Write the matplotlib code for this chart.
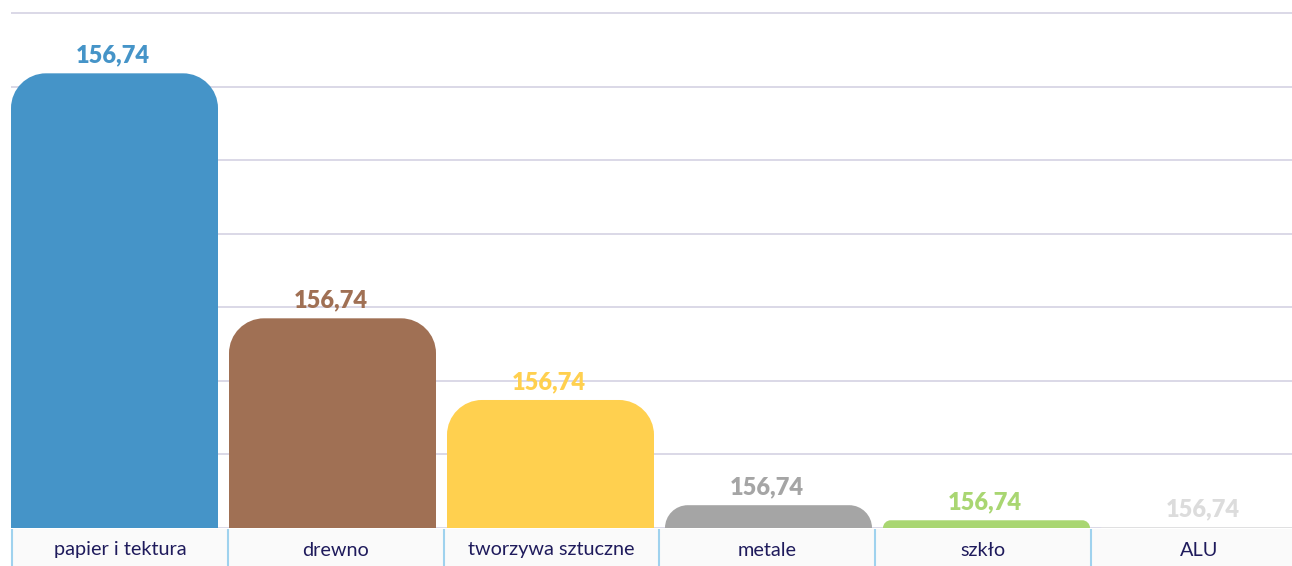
import matplotlib
matplotlib.use("Agg")
import matplotlib.pyplot as plt
from matplotlib.path import Path
from matplotlib.patches import PathPatch, Rectangle

# data
CATEGORIES = ["papier i tektura", "drewno", "tworzywa sztuczne", "metale", "szkło", "ALU"]
VALUES = [6.18, 2.85, 1.74, 0.31, 0.105, 0.012]
VALUE_LABELS = ["156,74", "156,74", "156,74", "156,74", "156,74", "156,74"]
COLORS = ["#4594c8", "#a07054", "#ffd04f", "#a5a5a5", "#a9d672", "#e1e1e1"]
LABEL_COLORS = ["#4594c8", "#a07054", "#ffd04f", "#a5a5a5", "#a9d672", "#dcdcdc"]
GRID_LEVELS = [0, 1, 2, 3, 4, 5, 6, 7]

W, H = 1292, 566
PX_X = 218.0     # pixels per category
PX_Y = 73.57     # pixels per grid step
BAR_W = 207 / PX_X
RADIUS = 35      # corner radius in px


def rounded_bar(ax, xc, h, color):
    h_px = h * PX_Y
    r = min(RADIUS, h_px)
    rx = r / PX_X
    ry = r / PX_Y
    k = 0.5523
    x0 = xc - BAR_W / 2
    x1 = xc + BAR_W / 2
    verts = [(x0, 0), (x0, h - ry),
             (x0, h - ry + k * ry), (x0 + rx - k * rx, h), (x0 + rx, h),
             (x1 - rx, h),
             (x1 - rx + k * rx, h), (x1, h - ry + k * ry), (x1, h - ry),
             (x1, 0), (x0, 0)]
    codes = [Path.MOVETO, Path.LINETO,
             Path.CURVE4, Path.CURVE4, Path.CURVE4,
             Path.LINETO,
             Path.CURVE4, Path.CURVE4, Path.CURVE4,
             Path.LINETO, Path.CLOSEPOLY]
    ax.add_patch(PathPatch(Path(verts, codes), facecolor=color, edgecolor="none", zorder=3))


fig = plt.figure(figsize=(W / 100, H / 100), dpi=100)
top_px = 10
ax = fig.add_axes([11 / W, (H - 528) / H, 1 - 11 / W, (528 - top_px) / H])
ax.set_xlim((11 - 114.5) / PX_X, (W - 114.5) / PX_X)
ax.set_ylim(0, 7 + (13 - top_px) / PX_Y)
for s in ax.spines.values():
    s.set_visible(False)
ax.set_xticks([])
ax.set_yticks(GRID_LEVELS)
ax.tick_params(axis="y", left=False, labelleft=False)
ax.grid(axis="y", color="#d8d5e5", lw=1.3, zorder=0)
ax.set_axisbelow(True)

for i, (v, c, lc, lab) in enumerate(zip(VALUES, COLORS, LABEL_COLORS, VALUE_LABELS)):
    rounded_bar(ax, i, v, c)
    ax.annotate(lab, (i, v), xytext=(-1.5, 8), textcoords="offset points",
                ha="center", va="baseline", fontsize=17, fontweight="heavy",
                color=lc, family="Lato", zorder=4)

# category boxes under the axis
ax2 = fig.add_axes([0, 0, 1, (H - 529) / H])
ax2.set_xlim(0, W)
ax2.set_ylim(0, H - 529)
ax2.axis("off")
cell = 215.8
for i, name in enumerate(CATEGORIES):
    x = 12 + cell * i
    ax2.add_patch(Rectangle((x, 0), cell, H - 529, facecolor="#fafafa", edgecolor="none"))
    ax2.plot([x, x], [0, H - 529], color="#9fd2ee", lw=1.5)
    ax2.text(x + cell / 2, 10.5, name, ha="center", va="baseline", fontsize=14.3,
             color="#1f1b5c", family="Lato")
ax2.plot([x + cell, x + cell], [0, H - 529], color="#9fd2ee", lw=1.5)

plt.savefig("out.png", dpi=100)
